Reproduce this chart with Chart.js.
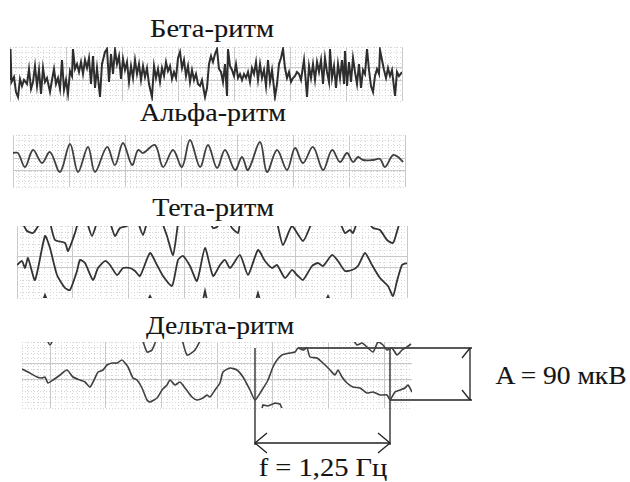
<!DOCTYPE html>
<html>
<head>
<meta charset="utf-8">
<script src="https://cdn.jsdelivr.net/npm/chart.js@4.4.1/dist/chart.umd.min.js"></script>
<style>
    body { margin: 0; background: #fff; width: 630px; height: 482px; position: relative; overflow: hidden; }
    .panel { position: absolute; }
    .lbl {
        position: absolute; white-space: nowrap; color: #141414;
        font-family: "Liberation Serif", "DejaVu Serif", serif; font-size: 25px; line-height: 1;
        -webkit-text-stroke: 0.12px #141414;
    }
</style>
</head>
<body>
<div class="lbl" style="left:212px;top:28px;transform:translate(-50%,-50%) scaleX(1.14)">Бета-ритм</div>
<div class="lbl" style="left:213px;top:112px;transform:translate(-50%,-50%) scaleX(1.12)">Альфа-ритм</div>
<div class="lbl" style="left:213px;top:207px;transform:translate(-50%,-50%) scaleX(1.12)">Тета-ритм</div>
<div class="lbl" style="left:220px;top:325px;transform:translate(-50%,-50%) scaleX(1.1)">Дельта-ритм</div>
<div class="lbl" style="left:561px;top:375px;transform:translate(-50%,-50%) scaleX(1.1)">A = 90 мкВ</div>
<div class="lbl" style="left:323px;top:467px;transform:translate(-50%,-50%) scaleX(1.14)">f = 1,25 Гц</div>

<div class="panel" style="left:7px;top:44px;width:398px;height:60px"><canvas id="beta"></canvas></div>
<div class="panel" style="left:10px;top:132px;width:398px;height:58px"><canvas id="alpha"></canvas></div>
<div class="panel" style="left:14px;top:223px;width:396px;height:78px"><canvas id="theta"></canvas></div>
<div class="panel" style="left:0px;top:335px;width:630px;height:147px"><canvas id="delta"></canvas></div>

<script>
// Sample positions along each trace (x) and the deflection (y).
// Units are the record's own: about one grid step = 5.6 on both axes.

const betaX = [
    0, 0.5, 1.5, 4, 6, 8, 10, 12, 14, 17,
    19, 21, 23, 25, 27, 29, 31, 33, 35, 37,
    40, 42, 44, 46, 48, 50, 52, 54, 56, 58,
    60, 62, 63, 65, 67, 69, 71, 73, 75, 77,
    79, 81, 83, 85, 87, 90, 92, 95, 97, 99,
    101, 103, 105, 107, 109, 111, 113, 115, 117, 119,
    121, 123, 125, 127, 129, 131, 133, 135, 137, 139,
    142, 144, 146, 148, 150, 152, 154, 156, 158, 160,
    162, 164, 166, 168, 170, 172, 174, 176, 178, 180,
    182, 184, 186, 188, 190, 192, 195, 197, 199, 201,
    203, 205, 207, 209, 211, 213, 215, 217, 218, 220,
    222, 224, 226, 228, 230, 232, 234, 236, 238, 240,
    242, 244, 246, 248, 250, 252, 254, 256, 258, 260,
    262, 265, 267, 269, 271, 273, 275, 277, 279, 281,
    283, 285, 287, 289, 291, 294, 296, 297, 299, 301,
    303, 305, 307, 309, 311, 313, 315, 317, 319, 320,
    322, 324, 326, 328, 330, 332, 334, 335, 337, 339,
    341, 343, 345, 347, 349, 351, 353, 355, 357, 359,
    361, 363, 365, 367, 369, 370, 372, 374, 376, 378,
    380, 382, 385, 387, 389, 392
];
const betaY = [
    -5, 25, -8, -3, -18, -23, -5, -12, -6, -10,
    5, -15, -8, 8, -12, 4, -20, 6, -8, -4,
    -18, -6, 5, -10, -4, -15, 14, -16, -6, -20,
    3, -2, 25, 5, 10, 2, 12, 0, 14, 6,
    16, -10, 18, -14, 6, -23, 10, 22, 25, -8,
    20, 0, 24, 10, 18, -5, 15, 4, 12, -8,
    8, -4, 14, 0, 10, -6, 8, -3, 6, -10,
    -23, 8, -4, 5, -8, 6, -2, 12, 3, 8,
    -5, 2, -4, 16, 22, 6, 14, -2, 8, -8,
    4, -6, 0, -10, -12, -6, -23, -14, 10, 18,
    12, 20, 25, 5, 2, -8, 10, -22, 25, 8,
    4, -2, 10, -4, 0, -6, 0, -4, 2, -8,
    6, 0, 12, -6, 10, -4, 4, -12, 14, -8,
    4, -23, -10, 10, 16, 25, 6, -4, 2, -8,
    -4, -2, 2, 0, -6, 14, -10, -23, 8, -4,
    10, -6, 12, 2, 14, -10, 16, 2, -8, 25,
    -4, 8, -14, 10, -4, 14, -10, 23, -12, 12,
    -8, 16, 2, -10, 10, -14, 4, 0, 25, 4,
    -12, -18, -2, 5, 0, 24, 14, 4, -4, 6,
    -2, 4, -22, 2, -2, 2
];

const alphaX = [
    0, 5, 12, 20, 29, 37, 47, 57, 65, 75,
    82, 94, 102, 110, 119, 125, 130, 142, 150, 160,
    169, 177, 187, 195, 204, 212, 222, 229, 235, 247,
    254, 264, 274, 282, 290, 300, 310, 319, 327, 334,
    340, 345, 350, 360, 367, 372, 380, 385, 390
];
const alphaY = [
    8, 8, -6, 11, -2, 9, -11, 17, -11, 14,
    -11, 14, -4, 18, -4, 11, 8, 16, -6, 11,
    -6, 21, -6, 16, -7, 11, -9, 4, -9, 19,
    -11, 11, -9, 13, -2, 14, -9, 11, -1, 8,
    -1, 4, 1, 1, 2, -6, 6, 4, -1
];

const thetaX = [
    0, 5, 8, 11, 18, 28, 33, 40, 48, 53,
    60, 63, 68, 76, 81, 88, 93, 100, 106, 113,
    118, 123, 133, 140, 146, 155, 161, 166, 173, 180,
    188, 196, 203, 208, 213, 223, 231, 241, 248, 255,
    260, 268, 275, 280, 286, 295, 301, 306, 315, 321,
    328, 335, 341, 348, 355, 363, 371, 376, 380, 385,
    390
];
const thetaY = [
    -3, 1, -6, 4, -18, 26, 14, -13, -26, -28,
    -9, 2, -1, -18, -6, 1, -3, -13, -6, -6,
    -9, -14, 9, -3, -14, -24, 2, 6, -4, -19,
    14, -14, -3, 2, -6, 7, -13, 12, 1, -6,
    -3, -16, -8, -13, -18, -4, -1, -4, 7, 1,
    -9, -8, -4, 9, -3, -16, -24, -34, -19, -3,
    -1
];
// neighbouring channels that cross into the strip (null = break)
const thetaUpperX = [
    5, 10, 16, 21, 22, null, 33, 38, 48, 51, 58, 61, null, 70, 75, 80, null,
    93, 98, 103, 110, 113, null, 121, 126, 130, null, 145, 150, 156, 160, 161, null,
    193, 196, 200, 203, null, 212, 215, 221, 223, null, 260, 266, 275, 286, 295, null,
    323, 328, 333, 336, 340, null, 351, 356, 363, 370, 376, 381, 383
];
const thetaUpperY = [
    40, 31, 29, 36, 40, null, 40, 22, 19, 11, 29, 40, null, 40, 26, 40, null,
    40, 26, 34, 36, 40, null, 40, 27, 40, null, 40, 26, 7, 31, 40, null,
    40, 34, 35, 40, null, 40, 34, 29, 40, null, 40, 17, 36, 21, 40, null,
    40, 29, 32, 29, 40, null, 40, 34, 32, 22, 19, 34, 40
];
const thetaLowerX = [26, 28, 30, null, 131, 133, 135, null, 186, 188, 190, null, 239, 241, 243, null, 309, 311, 313];
const thetaLowerY = [-38, -33, -38, null, -38, -34, -38, null, -38, -29, -38, null, -38, -31, -38, null, -38, -34, -38];

const deltaX = [
    0, 6, 15, 20, 23, 26, 31, 38, 45, 51,
    58, 63, 68, 73, 76, 81, 85, 90, 95, 100,
    103, 106, 111, 115, 120, 125, 128, 135, 140, 145,
    148, 153, 158, 163, 170, 175, 181, 185, 188, 193,
    198, 201, 208, 215, 221, 228, 233, 240, 246, 251,
    255, 260, 268, 273, 276, 281, 285, 288, 295, 301,
    308, 313, 316, 320, 325, 331, 338, 345, 351, 358,
    365, 368, 373, 378, 383, 386, 390
];
const deltaY = [
    6, 3, -2, -3, -2, -8, -5, 0, 5, -2,
    -5, -7, -12, -3, 3, 5, 10, 12, 12, 15,
    12, 8, -3, -5, -13, -25, -27, -23, -15, -10,
    -5, -10, -7, -13, -22, -25, -23, -20, -22, -15,
    -8, 3, 7, 5, -2, -15, -25, -15, -5, 8,
    15, 20, 22, 23, 27, 25, 27, 18, 17, 12,
    5, 0, 5, -2, -8, -12, -13, -18, -17, -20,
    -20, -25, -17, -15, -13, -10, -17
];
const deltaUpperX = [
    23, 28, 33, null, 119, 125, 130, 136, null, 159, 165, 173, 181, null,
    328, 335, 340, 345, 351, 356, 361, 365, 370, 375, 380, 385, 389
];
const deltaUpperY = [
    40, 30, 40, null, 40, 23, 25, 40, null, 40, 20, 25, 40, null,
    40, 30, 32, 28, 23, 33, 30, 25, 27, 20, 25, 28, 31
];
const deltaLowerX = [238, 241, 246, 253, 258, 263];
const deltaLowerY = [-40, -30, -31, -28, -29, -40];

// the measured delta wave: trough-to-trough period and trough/crest levels
const deltaPeriod = [233, 368];
const deltaAmp = [-25, 27];

const pts = (xs, ys) => xs.map((x, i) => ({ x: x, y: ys[i] }));

// ECG-paper style grid: fine dotted lines, solid line every tenth one
const gridTicks = (from, to, start, step, every, phase) => {
    const out = [];
    for (let i = 0; start + i * step <= to + 0.01; i++) {
        const v = start + i * step;
        if (v >= from - 0.01) out.push({ value: v, major: (i - phase) % every === 0 });
    }
    return out;
};
const rowTicks = (min, max, step, majors) =>
    gridTicks(min, max, min, step, 1000, -1).concat(majors.map(v => ({ value: v, major: true })));

const axis = (min, max, ticks) => ({
    type: 'linear',
    min: min,
    max: max,
    ticks: { display: false },
    border: { display: false, dash: c => (c.tick && c.tick.major ? [] : [1, 2]) },
    grid: {
        drawTicks: false,
        lineWidth: 1,
        color: c => (c.tick && c.tick.major ? '#c9c9c9' : '#d6d6d6')
    },
    afterBuildTicks: a => { a.ticks = ticks.map(t => ({ value: t.value, major: t.major })); }
});

const trace = (data, width, color, tension, extra) => Object.assign({
    data: data,
    borderColor: color,
    borderWidth: width,
    tension: tension,
    fill: false,
    pointRadius: 0
}, extra || {});

const eegChart = (id, o) => new Chart(document.getElementById(id), {
    type: 'line',
    data: { datasets: o.datasets },
    options: {
        responsive: true,
        maintainAspectRatio: false,
        animation: false,
        events: [],
        layout: { padding: o.padding },
        plugins: { legend: { display: false }, tooltip: { enabled: false } },
        scales: {
            x: axis(0, o.width, o.xTicks || gridTicks(0, o.width, 0, o.width / 70, 10, 0)),
            y: axis(o.yMin, o.yMax, o.yTicks)
        }
    }
});

eegChart('beta', {
    padding: 3, width: 392, yMin: -27, yMax: 27,
    yTicks: rowTicks(-27, 27, 5.4, [7, -6]),
    datasets: [trace(pts(betaX, betaY), 2, '#2e2e2e', 0)]
});

eegChart('alpha', {
    padding: 3, width: 392, yMin: -26, yMax: 26,
    yTicks: rowTicks(-26, 26, 5.2, [3, -9]),
    datasets: [trace(pts(alphaX, alphaY), 1.8, '#404040', 0.35)]
});

eegChart('theta', {
    padding: 3, width: 390, yMin: -36, yMax: 36,
    yTicks: rowTicks(-36, 36, 6, [6, -6]),
    datasets: [
        trace(pts(thetaX, thetaY), 1.8, '#333', 0.2),
        trace(pts(thetaUpperX, thetaUpperY), 1.8, '#333', 0.2),
        trace(pts(thetaLowerX, thetaLowerY), 1.8, '#333', 0)
    ]
});

// measurement marks for the delta wave, drawn in the chart's own units
const mark = (xs, ys) => trace(pts(xs, ys), 1.3, '#222', 0, { clip: false });
const [p0, p1] = deltaPeriod;
const [aLo, aHi] = deltaAmp;
const arrowX = 448, arrowY = -68, baseY = -70;

eegChart('delta', {
    padding: { left: 22, right: 218, top: 7, bottom: 74 },
    width: 390, yMin: -33, yMax: 33,
    xTicks: gridTicks(0, 390, 28 - 5 * 390 / 70, 390 / 70, 10, 5),
    yTicks: rowTicks(-33, 33, 5.5, [12, -5]),
    datasets: [
        trace(pts(deltaX, deltaY), 1.6, '#404040', 0.2),
        trace(pts(deltaUpperX, deltaUpperY), 1.6, '#404040', 0.2),
        trace(pts(deltaLowerX, deltaLowerY), 1.6, '#404040', 0),
        mark([p0, p0], [aHi, baseY]),
        mark([p1, p1], [aHi, baseY]),
        mark([276, arrowX + 2], [aHi, aHi]),
        mark([p1, arrowX + 2], [aLo, aLo]),
        mark([arrowX, arrowX], [aHi, aLo]),
        mark([arrowX - 8, arrowX, arrowX + 8], [aHi - 10, aHi, aHi - 10]),
        mark([arrowX - 8, arrowX, arrowX + 8], [aLo + 10, aLo, aLo + 10]),
        mark([p0, p1], [arrowY, arrowY]),
        mark([p0 + 12, p0, p0 + 12], [arrowY + 10, arrowY, arrowY - 10]),
        mark([p1 - 12, p1, p1 - 12], [arrowY + 10, arrowY, arrowY - 10])
    ]
});
</script>
</body>
</html>
